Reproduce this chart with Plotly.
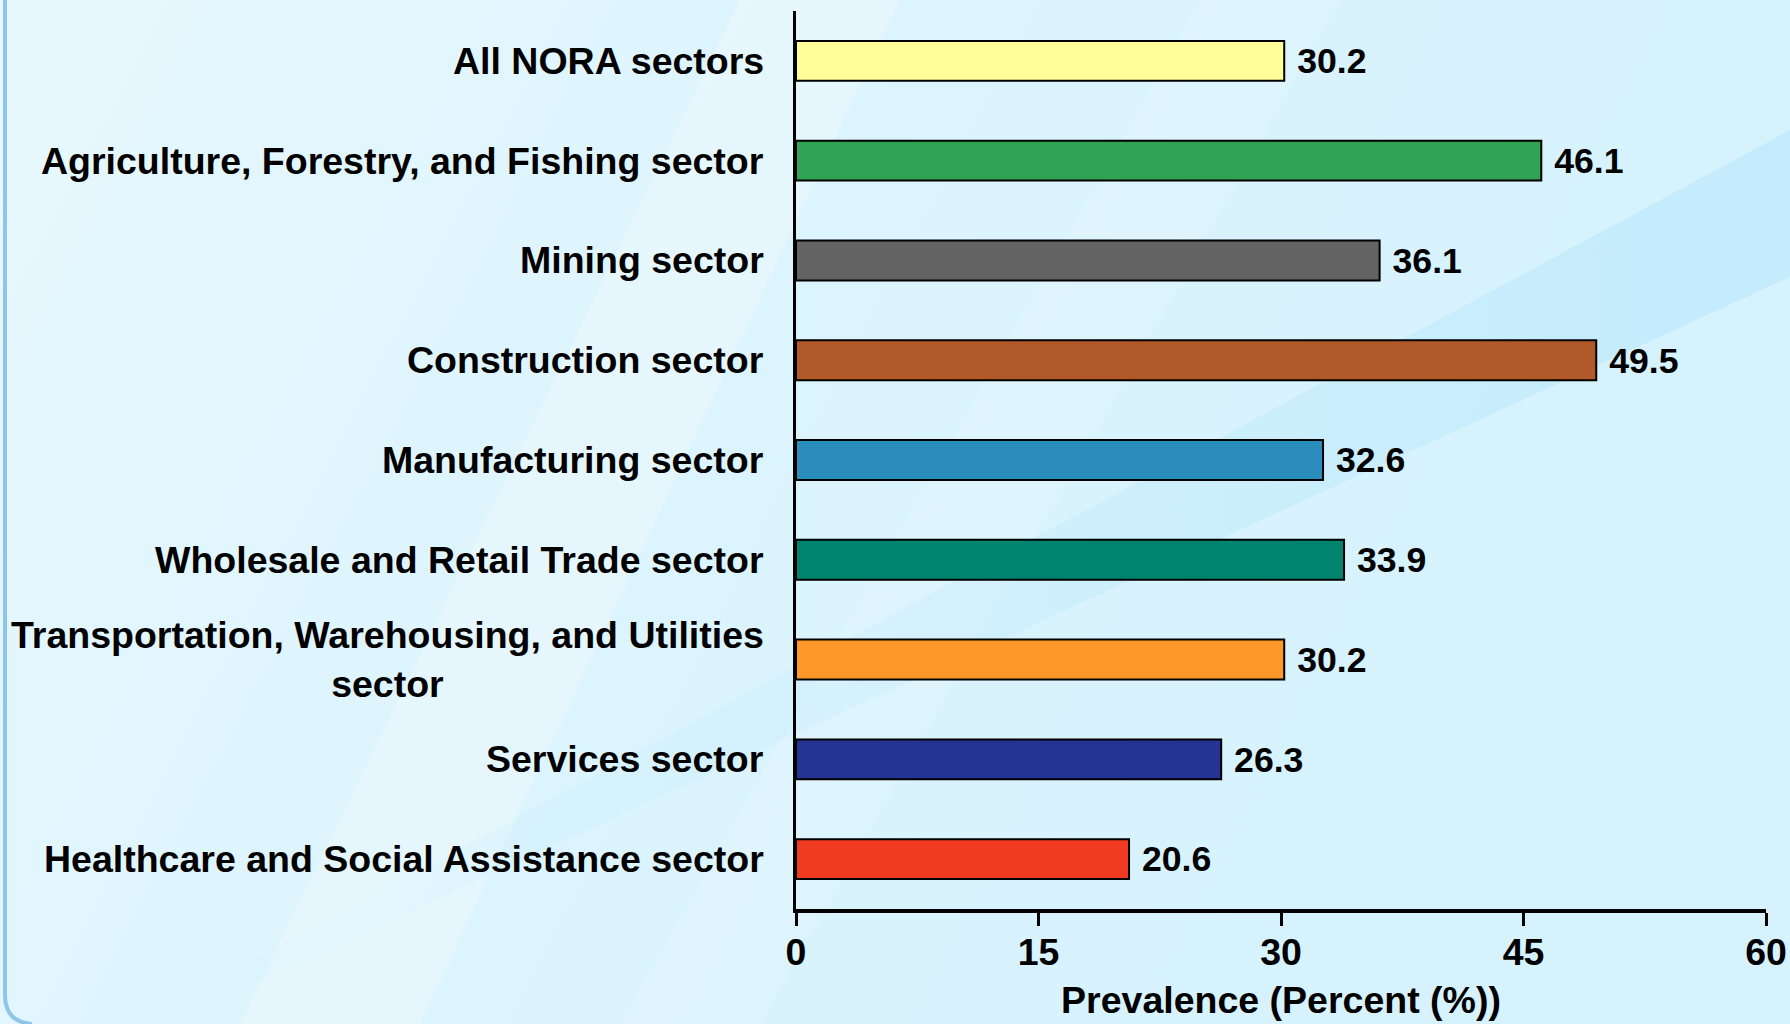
import plotly.graph_objects as go
import urllib.parse

# ---- data ----
categories = [
    "All NORA sectors",
    "Agriculture, Forestry, and Fishing sector",
    "Mining sector",
    "Construction sector",
    "Manufacturing sector",
    "Wholesale and Retail Trade sector",
    "Transportation, Warehousing, and Utilities<br>sector",
    "Services sector",
    "Healthcare and Social Assistance sector",
]
values = [30.2, 46.1, 36.1, 49.5, 32.6, 33.9, 30.2, 26.3, 20.6]
bar_colors = ["#ffff99", "#31a354", "#636363", "#b15928", "#2b8cbe",
              "#00846f", "#fe9929", "#253494", "#f03b20"]
x_ticks = [0, 15, 30, 45, 60]
x_title = "Prevalence (Percent (%))"

W, H = 1790, 1024
ML, MR, MT, MB = 796, 24, 11, 115
FONT = "Liberation Sans, Arial, sans-serif"
FS = 37.5

fig = go.Figure()
fig.add_trace(go.Bar(
    y=categories, x=values, orientation="h",
    marker=dict(color=bar_colors, line=dict(color="black", width=2)),
    width=0.4,
    text=values, texttemplate="\u00a0%{x:.1f}", textposition="outside",
    textfont=dict(family=FONT, size=FS, color="black", weight="bold"),
    cliponaxis=False, hoverinfo="skip",
))

# category labels (centered multi-line, right-anchored at axis)
for c in categories:
    fig.add_annotation(
        x=0, xref="paper", y=c, yref="y", text=c, showarrow=False,
        xanchor="right", yanchor="middle", align="center", xshift=-30,
        font=dict(family=FONT, size=FS, color="black", weight="bold"),
    )

# background svg
svg = f'''<svg xmlns="http://www.w3.org/2000/svg" width="{W}" height="{H}" viewBox="0 0 {W} {H}">
<defs>
<linearGradient id="g" x1="0" y1="0" x2="1" y2="0.3">
<stop offset="0" stop-color="#e8f8fe"/><stop offset="0.45" stop-color="#dcf4fd"/><stop offset="1" stop-color="#d5f2fd"/></linearGradient>
<linearGradient id="b" x1="0" y1="0" x2="1" y2="0">
<stop offset="0" stop-color="#bfeafc" stop-opacity="0"/><stop offset="0.5" stop-color="#bfeafc" stop-opacity="0.35"/><stop offset="1" stop-color="#bfeafc" stop-opacity="0.8"/></linearGradient>
</defs>
<rect width="{W}" height="{H}" fill="url(#g)"/>
<polygon points="240,1024 420,1024 900,0 740,0" fill="#ffffff" fill-opacity="0.25"/>
<polygon points="620,1024 760,1024 1340,0 1200,0" fill="#ffffff" fill-opacity="0.15"/>
<polygon points="134,1024 166,1024 1790,277 1790,130" fill="url(#b)"/>
<path d="M5,0 L5,995 Q5,1022 32,1024" fill="none" stroke="#8ec6e8" stroke-width="4"/>
</svg>'''
src = "data:image/svg+xml;charset=utf-8," + urllib.parse.quote(svg)
pw = W - ML - MR
ph = H - MT - MB
fig.add_layout_image(
    source=src, xref="paper", yref="paper",
    x=-ML / pw, y=1 + MT / ph, sizex=W / pw, sizey=H / ph,
    xanchor="left", yanchor="top", sizing="stretch", layer="below",
)

fig.update_layout(
    width=W, height=H,
    margin=dict(l=ML, r=MR, t=MT, b=MB, pad=0),
    paper_bgcolor="#dcf4fd", plot_bgcolor="rgba(0,0,0,0)",
    showlegend=False,
    font=dict(family=FONT, size=FS, color="black", weight="bold"),
    xaxis=dict(
        range=[0, 60], tickvals=x_ticks, ticks="outside", ticklen=13,
        tickwidth=3, tickcolor="black", showline=True, linewidth=4,
        linecolor="black", showgrid=False, zeroline=False,
        ticklabelstandoff=-6,
        tickfont=dict(family=FONT, size=FS, color="black", weight="bold"),
        title=dict(text=x_title, standoff=16,
                   font=dict(family=FONT, size=FS, color="black", weight="bold")),
        automargin=False,
    ),
    yaxis=dict(
        autorange="reversed", showline=True, linewidth=3, linecolor="black",
        showticklabels=False, ticks="", showgrid=False, zeroline=False,
        automargin=False,
    ),
)

fig.write_html("out.html")
